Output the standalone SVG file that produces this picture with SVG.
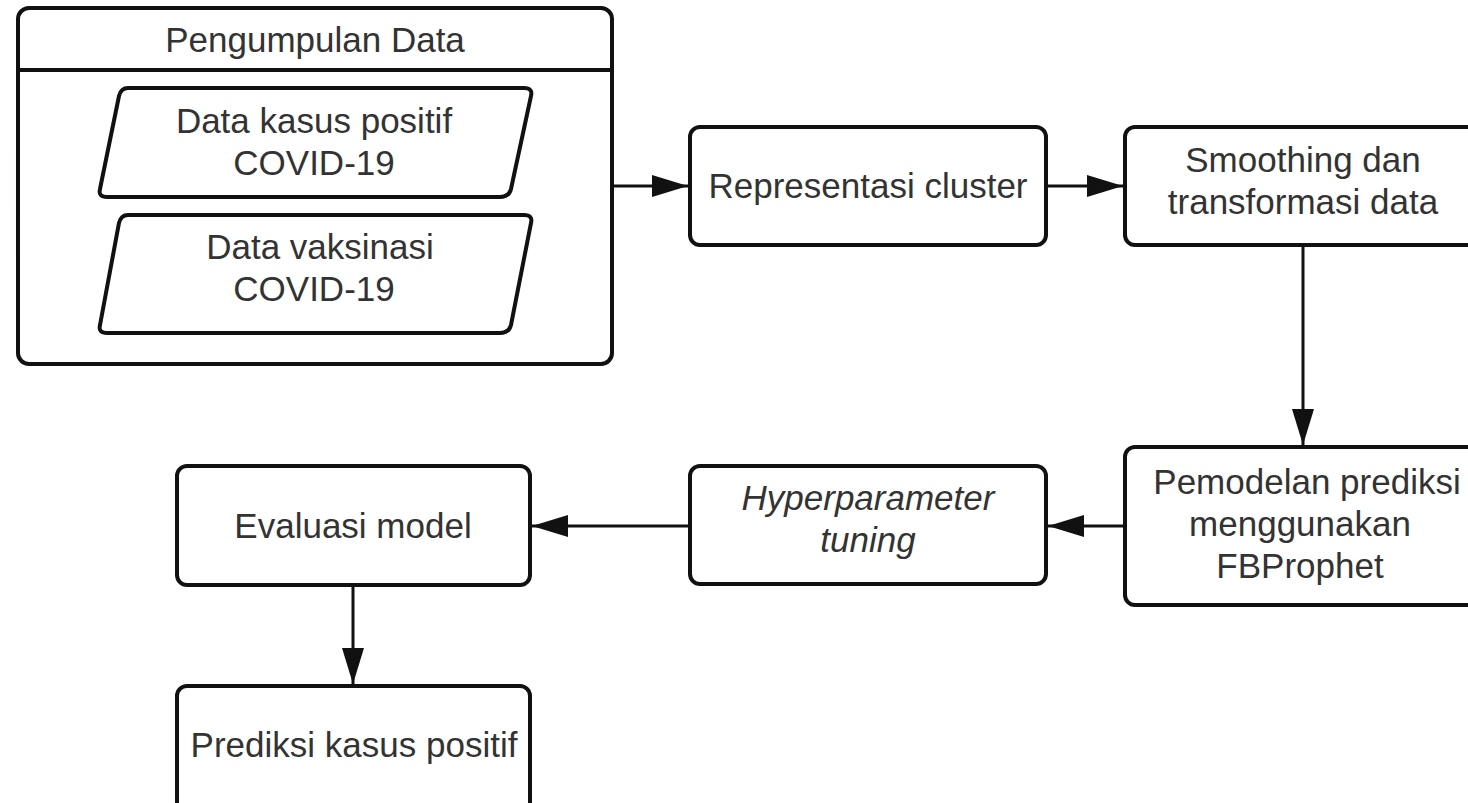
<svg xmlns="http://www.w3.org/2000/svg" width="1468" height="803" viewBox="0 0 1468 803">
  <defs>
    <style>
      .box { fill: #ffffff; stroke: #111111; stroke-width: 4; }
      .lbl { font-family: "Liberation Sans", Arial, sans-serif; font-size: 35px; fill: #333333; text-anchor: middle; }
      .it { font-style: italic; }
      .edge { fill: none; stroke: #111111; stroke-width: 3; }
    </style>
    <marker id="arrow" viewBox="0 0 36 22" refX="36" refY="11" markerWidth="36" markerHeight="22" markerUnits="userSpaceOnUse" orient="auto">
      <path d="M0,0 L36,11 L0,22 Z" fill="#111111"/>
    </marker>
  </defs>
  <rect width="1468" height="803" fill="#ffffff"/>

  <!-- data collection container with header -->
  <g id="pengumpulan-data">
    <rect class="box" x="18" y="8" width="594" height="356" rx="11"/>
    <line x1="18" y1="70" x2="612" y2="70" stroke="#111111" stroke-width="4"/>
    <text class="lbl" x="315" y="52">Pengumpulan Data</text>
  </g>
  <g id="data-kasus">
    <path class="box" d="M128,88 L524,88 Q533,88 531,96 L511,189 Q509,197 500,197 L107,197 Q98,197 100,189 L119,96 Q121,88 128,88 Z"/>
    <text class="lbl" x="314" y="133">Data kasus positif</text>
    <text class="lbl" x="314" y="175">COVID-19</text>
  </g>
  <g id="data-vaksinasi">
    <path class="box" d="M128,215 L524,215 Q533,215 531,223 L511,325 Q509,333 500,333 L107,333 Q98,333 100,325 L119,223 Q121,215 128,215 Z"/>
    <text class="lbl" x="320" y="259">Data vaksinasi</text>
    <text class="lbl" x="314" y="301">COVID-19</text>
  </g>

  <g id="representasi-cluster">
    <rect class="box" x="690" y="127" width="356" height="118" rx="10"/>
    <text class="lbl" x="868" y="198">Representasi cluster</text>
  </g>
  <g id="smoothing">
    <rect class="box" x="1125" y="127" width="360" height="118" rx="10"/>
    <text class="lbl" x="1303" y="172">Smoothing dan</text>
    <text class="lbl" x="1303" y="214">transformasi data</text>
  </g>
  <g id="pemodelan">
    <rect class="box" x="1125" y="447" width="360" height="158" rx="10"/>
    <text class="lbl" x="1307" y="494">Pemodelan prediksi</text>
    <text class="lbl" x="1300" y="536">menggunakan</text>
    <text class="lbl" x="1300" y="578">FBProphet</text>
  </g>
  <g id="hyperparameter">
    <rect class="box" x="690" y="466" width="356" height="118" rx="10"/>
    <text class="lbl it" x="868" y="510">Hyperparameter</text>
    <text class="lbl it" x="868" y="552">tuning</text>
  </g>
  <g id="evaluasi-model">
    <rect class="box" x="177" y="466" width="353" height="119" rx="10"/>
    <text class="lbl" x="353" y="538">Evaluasi model</text>
  </g>
  <g id="prediksi">
    <rect class="box" x="177" y="686" width="353" height="130" rx="10"/>
    <text class="lbl" x="354" y="757">Prediksi kasus positif</text>
  </g>

  <g id="connectors">
    <line class="edge" x1="612" y1="186" x2="688" y2="186" marker-end="url(#arrow)"/>
    <line class="edge" x1="1046" y1="186" x2="1123" y2="186" marker-end="url(#arrow)"/>
    <line class="edge" x1="1303" y1="245" x2="1303" y2="445" marker-end="url(#arrow)"/>
    <line class="edge" x1="1125" y1="526" x2="1048" y2="526" marker-end="url(#arrow)"/>
    <line class="edge" x1="690" y1="526" x2="532" y2="526" marker-end="url(#arrow)"/>
    <line class="edge" x1="353" y1="585" x2="353" y2="684" marker-end="url(#arrow)"/>
  </g>
</svg>
